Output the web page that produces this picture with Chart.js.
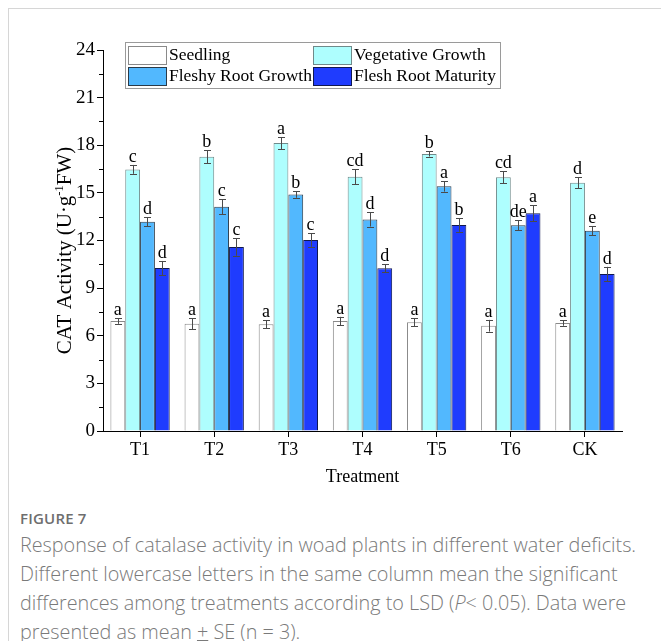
<!DOCTYPE html>
<html>
<head>
<meta charset="utf-8">
<script src="https://cdn.jsdelivr.net/npm/chart.js@4/dist/chart.umd.min.js"></script>
<style>
  html, body { margin: 0; padding: 0; background: #fff; }
  body { width: 661px; height: 641px; position: relative; overflow: hidden; }
  #frame { position: absolute; left: 8px; top: 8px; right: -2px; bottom: -2px;
           border-left: 1px solid #d6d6d6; border-top: 1px solid #d6d6d6; }
  #chart { position: absolute; left: 0; top: 0; }
  #caption { position: absolute; left: 20px; top: 506px; color: #7a7a7a;
             font-family: "Open Sans", sans-serif; }
  #caption .fig { font-size: 15px; font-weight: 600; color: #6e6e6e; line-height: 24px; letter-spacing: 0.2px; }
  #caption .line { font-size: 19.8px; line-height: 29px; white-space: nowrap; font-weight: 300; }
</style>
</head>
<body>
<div id="frame"></div>
<canvas id="chart" width="661" height="500"></canvas>
<div id="caption">
  <div class="fig">FIGURE 7</div>
  <div class="line">Response of catalase activity in woad plants in different water deficits.</div>
  <div class="line">Different lowercase letters in the same column mean the significant</div>
  <div class="line">differences among treatments according to LSD (<i>P</i>&lt; 0.05). Data were</div>
  <div class="line">presented as mean <u>+</u> SE (n = 3).</div>
</div>
<script>
// Treatments on the x axis
const treatments = ["T1", "T2", "T3", "T4", "T5", "T6", "CK"];

// Growth stages (series)
const stageNames = ["Seedling", "Vegetative Growth", "Fleshy Root Growth", "Flesh Root Maturity"];

// CAT activity means (U·g-1 FW)
const seedling   = [6.93, 6.76, 6.72, 6.93, 6.85, 6.63, 6.80];
const vegetative = [16.48, 17.28, 18.14, 16.02, 17.45, 15.98, 15.64];
const fleshyRoot = [13.18, 14.13, 14.89, 13.33, 15.41, 12.96, 12.62];
const maturity   = [10.27, 11.59, 12.03, 10.25, 12.98, 13.71, 9.89];

// Standard errors
const seedlingSE   = [0.18, 0.35, 0.26, 0.26, 0.26, 0.37, 0.17];
const vegetativeSE = [0.28, 0.42, 0.38, 0.48, 0.16, 0.38, 0.34];
const fleshyRootSE = [0.29, 0.47, 0.20, 0.45, 0.33, 0.32, 0.29];
const maturitySE   = [0.44, 0.55, 0.42, 0.26, 0.43, 0.50, 0.45];

// LSD significance letters
const seedlingLetters   = ["a", "a", "a", "a", "a", "a", "a"];
const vegetativeLetters = ["c", "b", "a", "cd", "b", "cd", "d"];
const fleshyRootLetters = ["d", "c", "b", "d", "a", "de", "e"];
const maturityLetters   = ["d", "c", "c", "d", "b", "a", "d"];

// Y axis ticks
const yTickValues = [0, 3, 6, 9, 12, 15, 18, 21, 24];

const SERIF = '"Liberation Serif", "Times New Roman", serif';

const styles = [
  { bg: "#ffffff", border: "#8a8a8a" },
  { bg: "#aefefe", border: "#6f8a8a" },
  { bg: "#52b8fe", border: "#2a3a48" },
  { bg: "#1f3cfe", border: "#101850" }
];

const seriesValues = [seedling, vegetative, fleshyRoot, maturity];
const seriesSE = [seedlingSE, vegetativeSE, fleshyRootSE, maturitySE];
const seriesLetters = [seedlingLetters, vegetativeLetters, fleshyRootLetters, maturityLetters];

const datasets = stageNames.map((name, i) => ({
  label: name,
  data: seriesValues[i],
  se: seriesSE[i],
  letters: seriesLetters[i],
  backgroundColor: styles[i].bg,
  borderColor: styles[i].border,
  borderWidth: 1,
  borderSkipped: "bottom",
  barPercentage: 1.0,
  categoryPercentage: 0.8
}));

// Error bars plus significance letters above each bar
const errorBarPlugin = {
  id: "errorBars",
  afterDatasetsDraw(chart) {
    const ctx = chart.ctx;
    const y = chart.scales.y;
    ctx.save();
    chart.data.datasets.forEach((ds, di) => {
      const meta = chart.getDatasetMeta(di);
      meta.data.forEach((bar, i) => {
        const v = ds.data[i], e = ds.se[i];
        const top = y.getPixelForValue(v + e);
        const bot = y.getPixelForValue(v - e);
        const x = Math.round(bar.x) + 0.5;
        ctx.strokeStyle = "#4a4a4a";
        ctx.lineWidth = 1;
        ctx.beginPath();
        ctx.moveTo(x, top); ctx.lineTo(x, bot);
        ctx.moveTo(x - 3.5, Math.round(top) + 0.5); ctx.lineTo(x + 3.5, Math.round(top) + 0.5);
        ctx.moveTo(x - 3.5, Math.round(bot) + 0.5); ctx.lineTo(x + 3.5, Math.round(bot) + 0.5);
        ctx.stroke();
        ctx.fillStyle = "#000";
        ctx.font = "18px " + SERIF;
        ctx.textAlign = "center";
        ctx.textBaseline = "alphabetic";
        ctx.fillText(ds.letters[i], bar.x, top - 3);
      });
    });
    ctx.restore();
  }
};

// Minor ticks between the labelled y values, and the y-axis title with superscript
const axisExtrasPlugin = {
  id: "axisExtras",
  afterDraw(chart) {
    const ctx = chart.ctx;
    const y = chart.scales.y;
    const left = chart.chartArea.left;
    ctx.save();
    ctx.strokeStyle = "#000";
    ctx.lineWidth = 1;
    ctx.beginPath();
    for (let k = 0; k < yTickValues.length - 1; k++) {
      const mid = (yTickValues[k] + yTickValues[k + 1]) / 2;
      const py = Math.round(y.getPixelForValue(mid)) + 0.5;
      ctx.moveTo(left - 4, py); ctx.lineTo(left, py);
    }
    ctx.stroke();

    // rotated title: CAT Activity (U·g⁻¹FW)
    const parts = [
      { t: "CAT Activity (U·g", size: 21, dy: 0 },
      { t: "-1", size: 12.5, dy: -8.5 },
      { t: "FW)", size: 21, dy: 0 }
    ];
    let total = 0;
    parts.forEach(p => { ctx.font = p.size + "px " + SERIF; p.w = ctx.measureText(p.t).width; total += p.w; });
    const cx = 71, cy = (chart.chartArea.top + chart.chartArea.bottom) / 2 + 10;
    ctx.translate(cx, cy);
    ctx.rotate(-Math.PI / 2);
    ctx.fillStyle = "#000";
    ctx.textBaseline = "alphabetic";
    ctx.textAlign = "left";
    let xx = -total / 2;
    parts.forEach(p => {
      ctx.font = p.size + "px " + SERIF;
      ctx.fillText(p.t, xx, p.dy);
      xx += p.w;
    });
    ctx.restore();
  }
};

// Boxed two-column legend inside the plot
const boxLegendPlugin = {
  id: "boxLegend",
  afterDraw(chart) {
    const ctx = chart.ctx;
    ctx.save();
    const bx = 125.5, by = 42.5, bw = 375, bh = 46;
    ctx.strokeStyle = "#9a9a9a";
    ctx.lineWidth = 1;
    ctx.strokeRect(bx, by, bw, bh);
    const cols = [128, 313];
    const rows = [46, 67];
    ctx.font = "17.5px " + SERIF;
    ctx.textBaseline = "middle";
    ctx.textAlign = "left";
    chart.data.datasets.forEach((ds, i) => {
      const cx = cols[i % 2], cy = rows[Math.floor(i / 2)];
      ctx.fillStyle = "#000";
      ctx.fillText(ds.label, cx + 41, cy + 9.5);
    });
    chart.data.datasets.forEach((ds, i) => {
      const cx = cols[i % 2], cy = rows[Math.floor(i / 2)];
      ctx.fillStyle = ds.backgroundColor;
      ctx.fillRect(cx, cy, 38, 18);
      ctx.strokeStyle = ds.borderColor;
      ctx.strokeRect(cx + 0.5, cy + 0.5, 38, 18);
    });
    ctx.restore();
  }
};

new Chart(document.getElementById("chart"), {
  type: "bar",
  data: { labels: treatments, datasets },
  plugins: [errorBarPlugin, axisExtrasPlugin, boxLegendPlugin],
  options: {
    responsive: false,
    animation: false,
    devicePixelRatio: 1,
    layout: { padding: { left: 0, top: 50, right: 39, bottom: 0 } },
    plugins: { legend: { display: false }, tooltip: { enabled: false } },
    scales: {
      x: {
        grid: { drawOnChartArea: false, drawTicks: true, tickLength: 6, color: "#000", offset: false },
        border: { display: true, color: "#000", width: 1 },
        ticks: { color: "#000", font: { family: SERIF, size: 18 }, padding: 2, maxRotation: 0 },
        title: { display: true, text: "Treatment", color: "#000", font: { family: SERIF, size: 18 }, padding: { top: 0, bottom: 12 } },
        afterFit(scale) { scale.height = 69; }
      },
      y: {
        min: 0,
        max: 24,
        afterBuildTicks(scale) { scale.ticks = yTickValues.map(v => ({ value: v })); },
        grid: { drawOnChartArea: false, drawTicks: true, tickLength: 6, color: "#000" },
        border: { display: true, color: "#000", width: 1 },
        ticks: { color: "#000", font: { family: SERIF, size: 19 }, padding: 2 },
        afterFit(scale) { scale.width = 103; }
      }
    }
  }
});
</script>
</body>
</html>
